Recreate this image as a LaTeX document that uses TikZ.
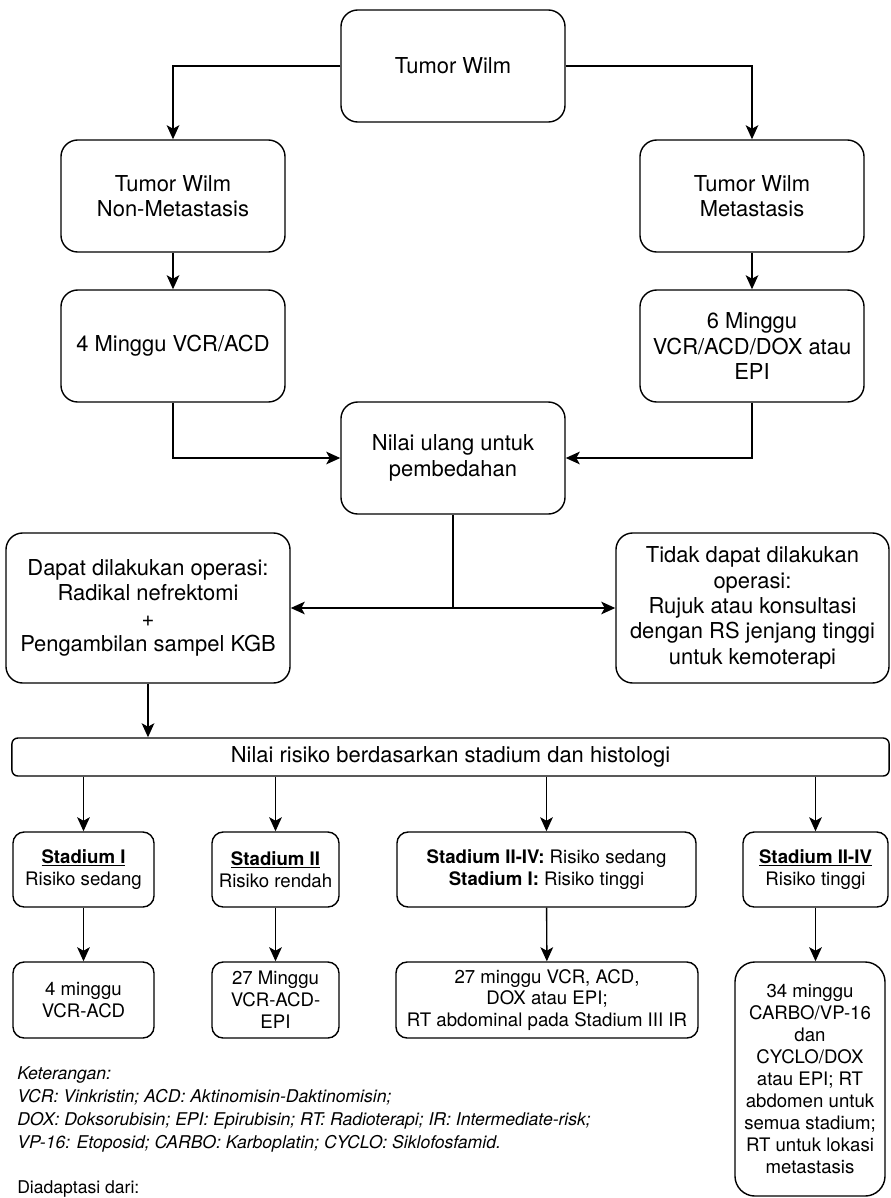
\documentclass[tikz,border=0pt]{standalone}
\usepackage{fontspec}
\setmainfont{TeX Gyre Heros}
\usetikzlibrary{arrows.meta}

\begin{document}
\begin{tikzpicture}[x=0.025cm, y=-0.025cm,
    box/.style={draw, line width=1pt, rounded corners=0.42cm, align=center, inner sep=2pt,
        minimum width=5.6cm, minimum height=2.8cm, font=\fontsize{15.6}{18}\selectfont},
    smallbox/.style={draw, line width=1pt, rounded corners=0.28cm, align=center, inner sep=1pt,
        minimum height=1.875cm, font=\fontsize{13.25}{15.6}\selectfont},
    arr/.style={-{Stealth[length=10pt, width=9pt, inset=2.5pt]}, line width=1pt}]
    \useasboundingbox (0,0) rectangle (891,1198);

    %nodes
    \node[box] (root) at (453,66) {Tumor Wilm};
    \node[box] (nonmeta) at (173,196) {Tumor Wilm\\Non-Metastasis};
    \node[box] (meta) at (752,196) {Tumor Wilm\\Metastasis};
    \node[box] (fourwk) at (173,346) {4 Minggu VCR/ACD};
    \node[box] (sixwk) at (752,346) {6 Minggu\\VCR/ACD/DOX atau\\EPI};
    \node[box] (reassess) at (453,458) {Nilai ulang untuk\\pembedahan};
    \node[box, minimum width=7.1cm, minimum height=3.75cm] (operable) at (148,608)
        {Dapat dilakukan operasi:\\Radikal nefrektomi\\+\\Pengambilan sampel KGB};
    \node[box, minimum width=6.825cm, minimum height=3.75cm] (inoperable) at (752.5,608)
        {Tidak dapat dilakukan\\operasi:\\Rujuk atau konsultasi\\dengan RS jenjang tinggi\\untuk kemoterapi};
    \node[box, rounded corners=0.15cm, minimum width=21.925cm, minimum height=0.95cm] (risk) at (450.5,757)
        {Nilai risiko berdasarkan stadium dan histologi};

    \node[smallbox, minimum width=3.525cm] (stadI) at (83.5,869.5) {\underline{\textbf{Stadium I}}\\Risiko sedang};
    \node[smallbox, minimum width=3.175cm] (stadII) at (275.5,869.5) {\underline{\textbf{Stadium II}}\\Risiko rendah};
    \node[smallbox, minimum width=7.475cm] (stadmid) at (546.5,869.5)
        {\textbf{Stadium II-IV:} Risiko sedang\\\textbf{Stadium I:} Risiko tinggi};
    \node[smallbox, minimum width=3.625cm] (stadR) at (815.5,869.5) {\underline{\textbf{Stadium II-IV}}\\Risiko tinggi};

    \node[smallbox, minimum width=3.525cm, minimum height=1.9cm] (wkI) at (83.5,1000) {4 minggu\\VCR-ACD};
    \node[smallbox, minimum width=3.175cm, minimum height=1.9cm] (wkII) at (275.5,1000) {27 Minggu\\VCR-ACD-\\EPI};
    \node[smallbox, minimum width=7.55cm, minimum height=1.9cm] (wkmid) at (547,1000)
        {27 minggu VCR, ACD,\\DOX atau EPI;\\RT abdominal pada Stadium III IR};
    \node[smallbox, rounded corners=0.5cm, minimum width=3.75cm, minimum height=5.85cm] (wkR) at (810,1079)
        {34 minggu\\CARBO/VP-16\\dan\\CYCLO/DOX\\atau EPI; RT\\abdomen untuk\\semua stadium;\\RT untuk lokasi\\metastasis};

    \node[anchor=north west, inner sep=0, align=left, font=\fontsize{12.5}{16.5}\selectfont\itshape] (legend) at (17,1066)
        {Keterangan:\\VCR: Vinkristin; ACD: Aktinomisin-Daktinomisin;\\DOX: Doksorubisin; EPI: Epirubisin; RT: Radioterapi; IR: Intermediate-risk;\\VP-16: Etoposid; CARBO: Karboplatin; CYCLO: Siklofosfamid.};
    \node[anchor=west, inner sep=0, font=\fontsize{12.5}{16.5}\selectfont] (source) at (17,1189) {Diadaptasi dari:};

    %edges
    \draw[arr] (root.west) -| (nonmeta.north);
    \draw[arr] (root.east) -| (meta.north);
    \draw[arr] (nonmeta) -- (fourwk);
    \draw[arr] (meta) -- (sixwk);
    \draw[arr] (fourwk.south) |- (reassess.west);
    \draw[arr] (sixwk.south) |- (reassess.east);
    \coordinate (split) at (reassess.south |- operable.east);
    \draw[line width=1pt] (reassess.south) -- (split);
    \draw[arr] (split) -- (operable.east);
    \draw[arr] (split) -- (inoperable.west);
    \draw[arr] (operable.south) -- (operable.south |- risk.north);
    \foreach \s in {stadI, stadII, stadmid, stadR}
        \draw[arr] (risk.south -| \s.north) -- (\s.north);
    \draw[arr] (stadI) -- (wkI);
    \draw[arr] (stadII) -- (wkII);
    \draw[arr] (stadmid) -- (wkmid);
    \draw[arr] (stadR.south) -- (stadR.south |- wkR.north);
\end{tikzpicture}
\end{document}
